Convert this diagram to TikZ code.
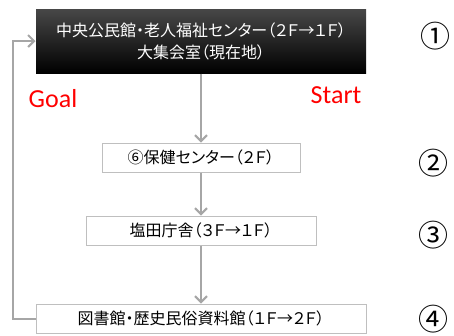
\documentclass[tikz,border=0pt]{standalone}
\usepackage{fontspec}
\setmainfont{Noto Sans CJK JP}[RawFeature=+palt]
\newfontfamily\circulo{Noto Sans CJK JP}
\newfontfamily\latina{Carlito}
\usepackage{xcolor}
\usetikzlibrary{arrows.meta}
\definecolor{linha}{HTML}{A6A6A6}
\definecolor{borda}{HTML}{BFBFBF}
\tikzset{
  quadro/.style={draw=borda, line width=1pt, fill=white, align=center, minimum width=#1, minimum height=29pt, inner sep=0pt, font=\fontsize{16}{22}\selectfont},
  quadro/.default=200pt,
  escuro/.style={quadro=#1, draw=none, minimum height=64pt, text=white, top color=black!72, middle color=black, bottom color=black},
  flecha/.style={draw=linha, line width=2pt, -{Straight Barb[length=6pt,width=12pt]}},
  rotulo/.style={anchor=base, text=red, inner sep=0pt, font=\latina\fontsize{26}{26}\selectfont},
  num/.style={inner sep=0pt, font=\circulo\fontsize{30}{30}\selectfont},
}

\begin{document}
\begin{tikzpicture}[x=1pt, y=-1pt]
  \useasboundingbox (0,0) rectangle (454,335);
  \node[escuro=330pt] (centro) at (201,41) {中央公民館・老人福祉センター（２Ｆ→１Ｆ）\\大集会室（現在地）};
  \node[quadro=198pt] (saude) at (201,157.5) {⑥保健センター（２Ｆ）};
  \node[quadro=230pt] (shioda) at (201,230.5) {塩田庁舎（３Ｆ→１Ｆ）};
  \node[quadro=330pt] (biblio) at (201,318.5) {図書館・歴史民俗資料館（１Ｆ→２Ｆ）};
  \node[rotulo] (goal) at (53,107) {Goal};
  \node[rotulo] (start) at (336,103) {Start};
  \node[num] (n1) at (435,36.5) {①};
  \node[num] (n2) at (433,163) {②};
  \node[num] (n3) at (433,235) {③};
  \node[num] (n4) at (433,319.5) {④};
  \draw[flecha] (centro) -- (saude); \draw[flecha] (saude) -- (shioda); \draw[flecha] (shioda) -- (biblio);
  \draw[flecha] (biblio.west) -- ++(-23,0) |- (centro.west);
\end{tikzpicture}
\end{document}
